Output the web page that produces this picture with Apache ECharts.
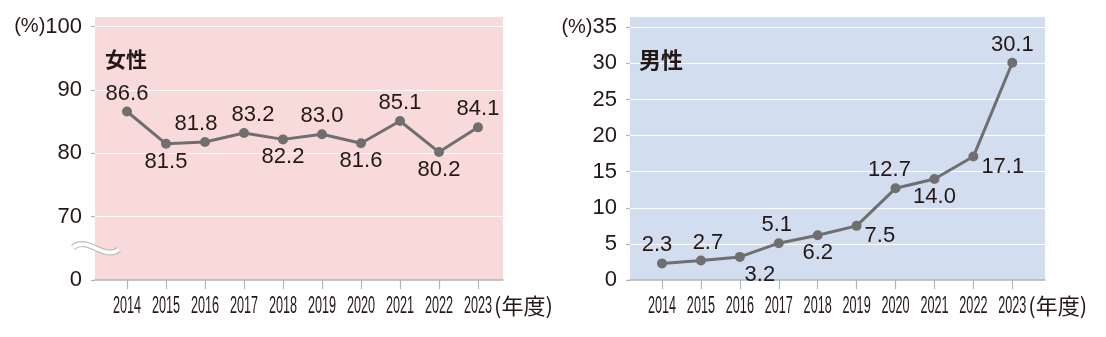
<!DOCTYPE html>
<html>
<head>
<meta charset="utf-8">
<script src="https://cdn.jsdelivr.net/npm/echarts@6/dist/echarts.min.js"></script>
<style>
  html, body { margin: 0; padding: 0; background: #ffffff; }
  #chart { width: 1106px; height: 337px; }
</style>
</head>
<body>
<div id="chart"></div>
<script>
// Fiscal years shown on both panels
const years = ['2014', '2015', '2016', '2017', '2018', '2019', '2020', '2021', '2022', '2023'];

// Rates (%) per fiscal year
const femaleRates = [86.6, 81.5, 81.8, 83.2, 82.2, 83.0, 81.6, 85.1, 80.2, 84.1];
const maleRates = [2.3, 2.7, 3.2, 5.1, 6.2, 7.5, 12.7, 14.0, 17.1, 30.1];

// Panel titles and axis texts
const femaleTitle = '女性';
const maleTitle = '男性';
const unitText = '(%)';
const yearUnitText = '(年度)';

// Female axis is broken: the bottom of the scale (60) is printed as 0
const femaleAxisBreakValue = 60;
const femaleAxisTicks = [0, 70, 80, 90, 100];
const maleAxisTicks = [0, 5, 10, 15, 20, 25, 30, 35];

// Which side of each point its value label sits on
const femaleLabelSide = ['top', 'bottom', 'top', 'top', 'bottom', 'top', 'bottom', 'top', 'bottom', 'top'];
const femaleLabelShift = [0, 0, -9, 9, 0, 0, 0, 0, 0, 0];
const maleLabelSide = ['top', 'top', 'bottom', 'top', 'bottom', 'right', 'top', 'bottom', 'right', 'top'];
const maleLabelShift = [-5, 7, 20, -2, 0, 0, -6, 0, 0, 0];

const INK = '#231815';
const LINE = '#6f6f6f';
const AXIS_GRAY = '#b4b4b4';
const NUM_FONT = '"Liberation Sans", Arial, sans-serif';
const CJK_FONT = '"Noto Sans CJK JP", "Noto Sans CJK SC", sans-serif';

// Layout of both panels
const panels = [
  { bgLeft: 95, bgWidth: 408, dataLeft: 127, dataWidth: 351, top: 16.5, height: 263.5,
    min: 60, max: 101.6, interval: 10, color: '#f9dada' },
  { bgLeft: 630, bgWidth: 415, dataLeft: 662, dataWidth: 350.3, top: 16.5, height: 263.5,
    min: 0, max: 36.5, interval: 5, color: '#d3ddf0' }
];

function yLabelFormatter(panelIdx) {
  return function (v) {
    const topTick = panelIdx === 0 ? femaleAxisTicks[femaleAxisTicks.length - 1] : maleAxisTicks[maleAxisTicks.length - 1];
    let txt = String(v);
    if (panelIdx === 0 && v === femaleAxisBreakValue) txt = String(femaleAxisTicks[0]);
    if (v === topTick) return '{u|' + unitText + '}' + txt;
    return txt;
  };
}

function seriesData(values, sides, shifts) {
  return values.map(function (v, i) {
    const side = sides[i];
    const label = { position: side, offset: [shifts[i], 0] };
    if (side === 'right') {
      label.offset = [shifts[i], 10];
      label.distance = 3;
    }
    return { value: v, label: label };
  });
}

const chart = echarts.init(document.getElementById('chart'), null, { renderer: 'canvas' });

const grids = [];
const xAxes = [];
const yAxes = [];
panels.forEach(function (p, i) {
  // background grid carrying the y scale, split lines and the bottom axis line
  grids.push({ left: p.bgLeft, top: p.top, width: p.bgWidth, height: p.height,
    show: true, backgroundColor: p.color, borderWidth: 0 });
  // data grid, where the categories sit
  grids.push({ left: p.dataLeft, top: p.top, width: p.dataWidth, height: p.height,
    show: false });

  xAxes.push({
    gridIndex: 2 * i, type: 'value', min: 0, max: 1,
    axisLine: { show: true, lineStyle: { color: AXIS_GRAY, width: 1.5 } },
    axisTick: { show: false }, axisLabel: { show: false }, splitLine: { show: false }
  });
  xAxes.push({
    gridIndex: 2 * i + 1, type: 'category', data: years, boundaryGap: false,
    axisLine: { show: false },
    axisTick: { show: true, alignWithLabel: true, interval: 0, length: 9, lineStyle: { color: AXIS_GRAY, width: 1.2 } },
    axisLabel: { show: false },
    splitLine: { show: false }
  });

  yAxes.push({
    gridIndex: 2 * i, type: 'value', min: p.min, max: p.max, interval: p.interval,
    axisLine: { show: false },
    axisTick: { show: true, length: 4, lineStyle: { color: AXIS_GRAY, width: 1.2 } },
    axisLabel: {
      showMaxLabel: false, color: INK, fontFamily: NUM_FONT, fontSize: 22, margin: 13,
      formatter: yLabelFormatter(i),
      rich: { u: { fontSize: 20, fontFamily: NUM_FONT, color: INK } }
    },
    splitLine: { show: true, lineStyle: { color: '#ffffff', width: 1.2 } }
  });
  yAxes.push({
    gridIndex: 2 * i + 1, type: 'value', min: p.min, max: p.max, interval: p.interval,
    show: false
  });
});

const pointLabel = {
  show: true, color: INK, fontFamily: NUM_FONT, fontSize: 22, distance: 2,
  formatter: function (p) { return p.value.toFixed(1); }
};

const series = [
  { name: femaleTitle, type: 'line', xAxisIndex: 1, yAxisIndex: 1,
    data: seriesData(femaleRates, femaleLabelSide, femaleLabelShift),
    symbol: 'circle', symbolSize: 10, itemStyle: { color: LINE },
    lineStyle: { color: LINE, width: 3 }, label: pointLabel, animation: false, z: 5 },
  { name: maleTitle, type: 'line', xAxisIndex: 3, yAxisIndex: 3,
    data: seriesData(maleRates, maleLabelSide, maleLabelShift),
    symbol: 'circle', symbolSize: 10, itemStyle: { color: LINE },
    lineStyle: { color: LINE, width: 3 }, label: pointLabel, animation: false, z: 5 }
];

chart.setOption({
  animation: false,
  title: [
    { text: femaleTitle, left: 105, top: 49, padding: 0,
      textStyle: { fontFamily: CJK_FONT, fontWeight: 'bold', fontSize: 21, color: INK } },
    { text: maleTitle, left: 639, top: 49, padding: 0,
      textStyle: { fontFamily: CJK_FONT, fontWeight: 'bold', fontSize: 22, color: INK } }
  ],
  grid: grids,
  xAxis: xAxes,
  yAxis: yAxes,
  series: series
});

// Year labels in a condensed setting, the "(年度)" unit and the axis break mark
const axisBottom = chart.convertToPixel({ yAxisIndex: 0 }, panels[0].min);
const labelY = axisBottom + 27;
const graphics = [];

[1, 3].forEach(function (axisIdx) {
  years.forEach(function (yr) {
    const x = chart.convertToPixel({ xAxisIndex: axisIdx }, yr);
    graphics.push({
      type: 'text', x: x, y: labelY, scaleX: 0.55, z: 10, silent: true,
      style: { text: yr, x: 0, y: 0, align: 'center', verticalAlign: 'middle',
        fontFamily: NUM_FONT, fontSize: 23, fill: INK }
    });
  });
  const lastX = chart.convertToPixel({ xAxisIndex: axisIdx }, years[years.length - 1]);
  graphics.push({
    type: 'text', x: lastX + 16, y: labelY - 1, z: 10, silent: true,
    style: { text: yearUnitText, x: 0, y: 0, align: 'left', verticalAlign: 'middle',
      fontFamily: CJK_FONT, fontSize: 22, fill: INK }
  });
});

const breakY = chart.convertToPixel({ yAxisIndex: 0 }, (femaleAxisBreakValue + femaleAxisTicks[1]) / 2);
const waveShape = { x1: -23, y1: -1, x2: 23, y2: 1, cpx1: -8, cpy1: -13, cpx2: 8, cpy2: 13 };
graphics.push({
  type: 'bezierCurve', x: panels[0].bgLeft + 1, y: breakY, z: 10, silent: true,
  shape: waveShape, style: { fill: null, stroke: '#bdbdbd', lineWidth: 6 }
});
graphics.push({
  type: 'bezierCurve', x: panels[0].bgLeft + 1, y: breakY, z: 11, silent: true,
  shape: waveShape, style: { fill: null, stroke: '#ffffff', lineWidth: 3.6 }
});

chart.setOption({ graphic: graphics });
</script>
</body>
</html>
